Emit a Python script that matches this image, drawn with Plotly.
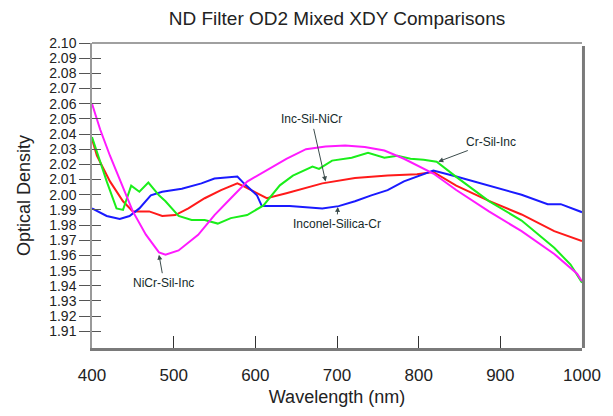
import plotly.graph_objects as go

# Spectral optical density of four mixed ND OD2 stacks
wl_nicr_sil_inc = [400, 410, 422, 438, 450, 466, 482, 490, 506, 530, 550, 570, 590, 638, 662, 686, 710,
                   734, 758, 782, 806, 818, 846, 886, 926, 966, 994, 1000]
od_nicr_sil_inc = [2.060, 2.043, 2.0257, 2.004, 1.989, 1.9737, 1.962, 1.9605, 1.9633, 1.9736, 1.9866,
                   1.9977, 2.0087, 2.0237, 2.0300, 2.0318, 2.0324, 2.0315, 2.0291, 2.0237, 2.0172,
                   2.0140, 2.0031, 1.9890, 1.9760, 1.9610, 1.9480, 1.9430]

wl_cr_sil_inc = [400, 406, 418, 430, 438, 448, 458, 469, 482, 490, 506, 522, 538, 554, 570, 590, 610,
                 630, 646, 670, 678, 694, 718, 738, 758, 774, 790, 806, 822, 846, 886, 926, 966, 986,
                 1000]
od_cr_sil_inc = [2.038, 2.028, 2.0088, 1.991, 1.990, 2.006, 2.002, 2.008, 1.9996, 1.9957, 1.986,
                 1.9834, 1.9834, 1.981, 1.9846, 1.9866, 1.993, 2.0062, 2.0126, 2.0186, 2.017,
                 2.0225, 2.0244, 2.0276, 2.0244, 2.0257, 2.0237, 2.0231, 2.0218, 2.0118, 1.9958,
                 1.983, 1.965, 1.954, 1.942]

wl_inc_sil_nicr = [400, 406, 422, 438, 450, 470, 486, 502, 518, 538, 558, 578, 586, 598, 614, 638,
                   682, 722, 762, 798, 818, 846, 886, 926, 966, 1000]
od_inc_sil_nicr = [2.0367, 2.0257, 2.0088, 1.9957, 1.989, 1.989, 1.986, 1.9866, 1.991, 1.9977, 2.003,
                   2.0075, 2.0055, 2.002, 1.9977, 2.001, 2.0075, 2.011, 2.0127, 2.0135, 2.015,
                   2.006, 1.996, 1.987, 1.976, 1.9695]

wl_inconel_silica_cr = [400, 418, 434, 446, 458, 472, 486, 510, 534, 550, 578, 586, 602, 608, 642,
                        682, 702, 722, 742, 762, 782, 802, 818, 846, 886, 926, 958, 974, 1000]
od_inconel_silica_cr = [1.991, 1.986, 1.984, 1.986, 1.991, 1.9996, 2.002, 2.004, 2.0075, 2.0107,
                        2.012, 2.0075, 1.9996, 1.9925, 1.9925, 1.991, 1.9925, 1.9957, 1.9996, 2.003,
                        2.0088, 2.0127, 2.016, 2.012, 2.006, 2.000, 1.9938, 1.9938, 1.9885]

series = [
    ("Inc-Sil-NiCr", wl_inc_sil_nicr, od_inc_sil_nicr, "#ff1a1a"),
    ("Inconel-Silica-Cr", wl_inconel_silica_cr, od_inconel_silica_cr, "#1a1aff"),
    ("Cr-Sil-Inc", wl_cr_sil_inc, od_cr_sil_inc, "#1aee1a"),
    ("NiCr-Sil-Inc", wl_nicr_sil_inc, od_nicr_sil_inc, "#ff1aff"),
]

y_ticks = [round(1.91 + 0.01 * i, 2) for i in range(20)]
x_ticks = [400, 500, 600, 700, 800, 900, 1000]

# Callouts: label, wavelength and OD of the arrow tip, text offset in px
callouts = [
    ("Inc-Sil-NiCr", 686, 2.0088, -14, -62),
    ("Cr-Sil-Inc", 824, 2.0218, 53, -20),
    ("Inconel-Silica-Cr", 701, 1.9920, -1, 17),
    ("NiCr-Sil-Inc", 482, 1.9605, 5, 28),
]

fig = go.Figure()
for name, xs, ys, color in series:
    fig.add_trace(go.Scatter(x=xs, y=ys, mode="lines", name=name,
                             line=dict(color=color, width=2)))

# invisible companion trace so the inner half of the y ticks can be drawn
fig.add_trace(go.Scatter(x=[400], y=[2.0], yaxis="y2", mode="markers",
                         marker=dict(opacity=0), showlegend=False, hoverinfo="skip"))

for text, x, y, ax, ay in callouts:
    fig.add_annotation(x=x, y=y, ax=ax, ay=ay, text=text, showarrow=True,
                       arrowhead=2, arrowsize=1, arrowwidth=1, arrowcolor="#3c4c4c",
                       font=dict(family="Arial, Liberation Sans", size=12, color="#152a2a"),
                       standoff=0, startstandoff=1)

fig.update_layout(
    width=613, height=416,
    margin=dict(l=92, r=21, t=43, b=64),
    paper_bgcolor="white", plot_bgcolor="white",
    showlegend=False,
    title=dict(text="ND Filter OD2 Mixed XDY Comparisons", x=0.5, xref="paper",
               y=1 - 18 / 416, yref="container", yanchor="middle",
               font=dict(family="Arial, Liberation Sans", size=19, color="#222222")),
    xaxis=dict(range=[400, 1000], tickvals=x_ticks, ticks="inside", ticklen=12,
               tickcolor="#333333", tickwidth=1, showgrid=False, zeroline=False,
               showline=True, linecolor="#7a7a7a", linewidth=3,
               tickfont=dict(family="Arial, Liberation Sans", size=17, color="#222222"),
               ticklabelstandoff=10,
               title=dict(text="Wavelength (nm)", standoff=6,
                          font=dict(family="Arial, Liberation Sans", size=18, color="#222222"))),
    yaxis=dict(range=[1.899, 2.10], tickvals=y_ticks, tickformat=".2f", ticks="outside",
               ticklen=11, tickcolor="#555555", tickwidth=1, showgrid=False, zeroline=False,
               showline=True, linecolor="#999999", linewidth=1.5,
               tickfont=dict(family="Arial, Liberation Sans", size=14, color="#222222"),
               title=dict(text="Optical Density", standoff=14,
                          font=dict(family="Arial, Liberation Sans", size=18, color="#222222"))),
    yaxis2=dict(range=[1.899, 2.10], tickvals=y_ticks, overlaying="y", side="left",
                ticks="inside", ticklen=9, tickcolor="#555555", tickwidth=1,
                showticklabels=False, showgrid=False, zeroline=False, showline=False),
    shapes=[
        dict(type="line", xref="paper", yref="paper", x0=0, x1=1, y0=1, y1=1,
             line=dict(color="#a0a0a0", width=2)),
        dict(type="line", xref="paper", yref="paper", x0=1.003, x1=1.003, y0=0, y1=0.99,
             line=dict(color="#7a7a7a", width=3)),
    ],
)

fig.write_html("out.html")
